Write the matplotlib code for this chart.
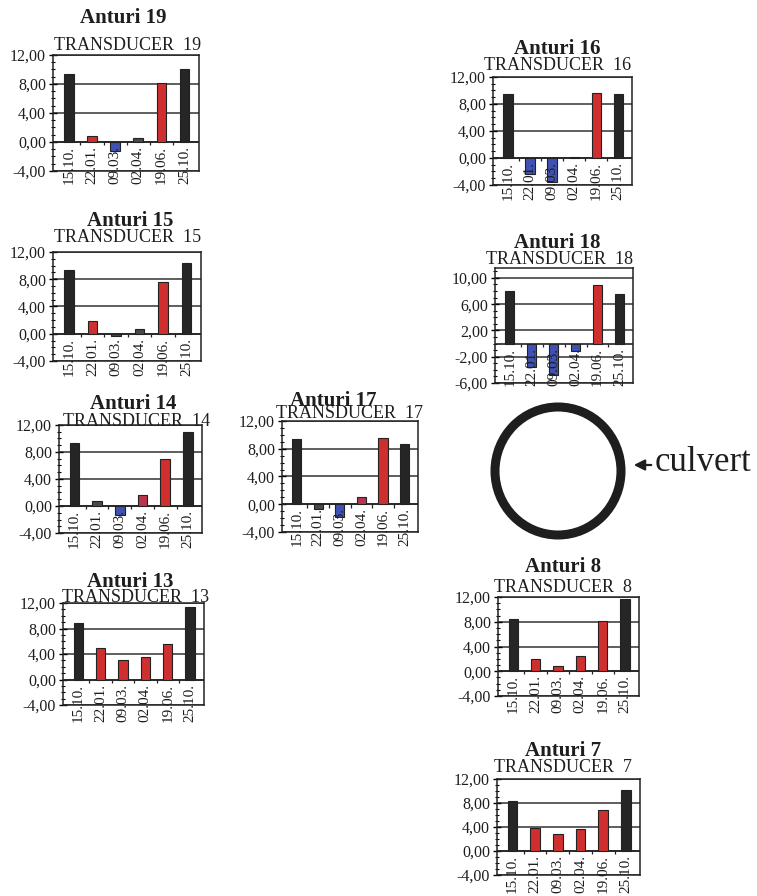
import matplotlib
matplotlib.use("Agg")
import matplotlib.pyplot as plt
from matplotlib.patches import Ellipse, FancyArrowPatch
from matplotlib.ticker import MultipleLocator, FixedLocator, FuncFormatter

plt.rcParams['font.family'] = ['Liberation Serif', 'DejaVu Serif']
plt.rcParams['text.color'] = '#1e1e1e'
plt.rcParams['ytick.labelcolor'] = '#1e1e1e'

dates = ["15.10.", "22.01.", "09.03.", "02.04.", "19.06.", "25.10."]

t19 = [9.4, 0.8, -1.3, 0.5, 8.1, 10.1]
t15 = [9.4, 1.9, -0.3, 0.7, 7.6, 10.4]
t14 = [9.4, 0.7, -1.3, 1.6, 6.9, 10.9]
t17 = [9.4, -0.7, -1.9, 1.1, 9.6, 8.7]
t13 = [8.8, 4.9, 3.1, 3.6, 5.6, 11.3]
t16 = [9.5, -2.4, -3.5, 0.2, 9.7, 9.5]
t18 = [8.0, -3.6, -4.8, -1.2, 8.9, 7.5]
t8 = [8.5, 1.9, 0.8, 2.4, 8.2, 11.7]
t7 = [8.3, 3.9, 2.8, 3.7, 6.8, 10.1]

# bar colours (k black, r red, b blue, g dark grey, p dark pink)
pal = {'k': '#262626', 'r': '#cf2f2f', 'b': '#3f52b3', 'g': '#4a4a4a', 'p': '#b8344f'}
c19 = 'krbgrk'
c15 = 'krggrk'
c14 = 'kgbprk'
c17 = 'kgbprk'
c13 = 'krrrrk'
c16 = 'kbbgrk'
c18 = 'kbbbrk'
c8 = 'krrrrk'
c7 = 'krrrrk'

W, H = 757, 896
fig = plt.figure(figsize=(W / 100, H / 100), dpi=100)


def panel(num, vals, cols, box, title_xy, sub_xy, ylo=-4, yhi=12, ticks=None):
    l, r, t, b = box
    ax = fig.add_axes([l / W, 1 - b / H, (r - l) / W, (b - t) / H])
    x = range(len(vals))
    ax.bar(x, vals, width=0.42, color=[pal[c] for c in cols],
           edgecolor='#222222', linewidth=0.8, zorder=3)
    ax.set_xlim(-0.68, 5.62)
    ax.set_ylim(ylo, yhi)
    if ticks is None:
        ax.yaxis.set_major_locator(MultipleLocator(4))
    else:
        ax.yaxis.set_major_locator(FixedLocator(ticks))
    ax.yaxis.set_minor_locator(MultipleLocator(1))
    ax.yaxis.set_major_formatter(FuncFormatter(lambda v, p: f"{v:.2f}".replace('.', ',')))
    ax.tick_params(axis='y', which='major', direction='inout', length=6,
                   width=1, labelsize=11.5, pad=2)
    ax.tick_params(axis='y', which='minor', direction='inout', length=3, width=0.8)
    ax.set_xticks([])
    ax.grid(axis='y', color='#333333', linewidth=1.1, zorder=1)
    ax.axhline(0, color='#222222', linewidth=1.2, zorder=2)
    ax.vlines([i + 0.5 for i in range(len(vals) - 1)], 0, -(yhi - ylo) * 0.03,
              color='#222222', linewidth=0.9)
    for s in ax.spines.values():
        s.set_linewidth(1.1)
        s.set_color('#222222')
    for i, d in enumerate(dates):
        ax.annotate(d, (i, 0), xytext=(0, -3), textcoords='offset points',
                    rotation=90, ha='center', va='top', fontsize=11,
                    annotation_clip=False)
    fig.text(title_xy[0] / W, 1 - title_xy[1] / H, f"Anturi {num}",
             ha='center', va='center', fontsize=15, fontweight='bold')
    fig.text(sub_xy[0] / W, 1 - sub_xy[1] / H, f"TRANSDUCER  {num}",
             ha='center', va='center', fontsize=13)
    return ax


panel(19, t19, c19, (53, 199, 55, 171), (123, 18), (128, 46))
panel(15, t15, c15, (53, 201, 252, 361), (130, 221), (128, 238))
panel(14, t14, c14, (59, 202, 425, 533), (133, 404), (137, 421))
panel(17, t17, c17, (282, 418, 421, 532), (333, 401), (350, 413))
panel(13, t13, c13, (63, 204, 603, 705), (130, 582), (136, 597))
panel(16, t16, c16, (493, 632, 77, 185), (557, 49), (558, 66))
panel(18, t18, c18, (495, 633, 268, 383), (557, 243), (560, 259),
      ylo=-6, yhi=11.5, ticks=[-6, -2, 2, 6, 10])
panel(8, t8, c8, (498, 639, 597, 696), (563, 567), (563, 588))
panel(7, t7, c7, (497, 640, 779, 875), (563, 751), (563, 767))

# culvert
fig.add_artist(Ellipse((558 / W, 1 - 471 / H), 126 / W, 128 / H,
                       transform=fig.transFigure, fill=False,
                       edgecolor='#1e1e1e', linewidth=6.5))
fig.add_artist(FancyArrowPatch(
    (654 / W, 1 - 465 / H), (631 / W, 1 - 465 / H), transform=fig.transFigure,
    arrowstyle='-|>', mutation_scale=16, color='#1e1e1e', linewidth=1.6))
fig.text(655 / W, 1 - 462 / H, "culvert", ha='left', va='center', fontsize=25)

fig.savefig("out.png", dpi=100)
